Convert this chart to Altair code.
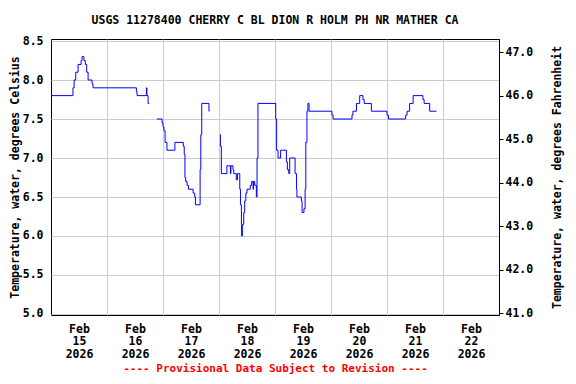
import altair as alt
import pandas as pd
from datetime import datetime, timedelta, timezone

TITLE = "USGS 11278400 CHERRY C BL DION R HOLM PH NR MATHER CA"
FOOTER = "---- Provisional Data Subject to Revision ----"
Y_LEFT_TITLE = "Temperature, water, degrees Celsius"
Y_RIGHT_TITLE = "Temperature, water, degrees Fahrenheit"

celsius_ticks = [5.0, 5.5, 6.0, 6.5, 7.0, 7.5, 8.0, 8.5]
fahrenheit_ticks = [41.0, 42.0, 43.0, 44.0, 45.0, 46.0, 47.0]
label_days = [15, 16, 17, 18, 19, 20, 21, 22]   # labels at noon
grid_days = [16, 17, 18, 19, 20, 21, 22]        # grid at midnight

# hours since 2026-02-15 00:00 UTC, step values (deg C)
seg1_hours = [0.0, 9.4, 9.9, 10.6, 11.6, 12.9, 13.3, 14.1, 14.7, 15.3, 15.9,
              17.6, 18.0, 36.6, 36.9, 40.9, 41.1, 41.6, 42.1]
seg1_temp = [7.8, 7.9, 8.0, 8.1, 8.2, 8.25, 8.3, 8.25, 8.2, 8.1, 8.0,
             7.95, 7.9, 7.85, 7.8, 7.9, 7.8, 7.7, 7.7]

seg2_hours = [45.4, 47.6, 48.0, 48.4, 48.9, 49.7, 53.1, 56.7, 57.1, 57.4, 57.7,
              58.3, 58.9, 60.9, 61.6, 61.9, 63.9, 64.2, 64.6, 67.7, 67.9]
seg2_temp = [7.5, 7.45, 7.4, 7.35, 7.2, 7.1, 7.2, 7.15, 7.05, 6.75, 6.7,
             6.65, 6.6, 6.55, 6.5, 6.4, 6.85, 7.3, 7.7, 7.6, 7.6]

seg3_hours = [72.4, 72.6, 73.0, 75.4, 76.9, 77.1, 78.0, 78.3, 79.4, 79.9, 80.9,
              81.2, 81.6, 81.7, 82.0, 82.6, 83.0, 83.5, 84.0, 85.4, 86.0, 86.6,
              86.8, 87.3, 88.0, 88.3, 88.7, 96.3, 96.7, 97.3, 98.4, 100.9, 101.3,
              101.9, 102.3, 104.6, 105.2, 105.4, 107.3, 107.6, 108.4, 108.9, 109.2,
              109.7, 110.1, 110.6, 120.4, 120.9, 129.0, 129.4, 130.9, 132.3, 133.7,
              134.2, 137.3, 144.0, 144.6, 152.0, 152.6, 153.7, 155.2, 159.4, 159.9,
              162.3, 165.2]
seg3_temp = [7.3, 7.15, 6.8, 6.9, 6.8, 6.9, 6.85, 6.8, 6.72, 6.8, 6.6,
             6.4, 6.15, 6.0, 6.15, 6.3, 6.45, 6.55, 6.6, 6.65, 6.7, 6.6,
             6.7, 6.65, 6.5, 7.0, 7.7, 7.5, 7.1, 7.0, 7.1, 6.95, 6.85,
             6.8, 7.0, 6.8, 6.6, 6.5, 6.45, 6.3, 6.35, 6.6, 7.2,
             7.6, 7.7, 7.6, 7.55, 7.5, 7.55, 7.6, 7.7, 7.8, 7.75,
             7.7, 7.6, 7.55, 7.5, 7.55, 7.6, 7.7, 7.8, 7.75, 7.7,
             7.6, 7.6]

start = datetime(2026, 2, 15, tzinfo=timezone.utc)
rows = []
for seg, (hs, ts) in enumerate([(seg1_hours, seg1_temp),
                                (seg2_hours, seg2_temp),
                                (seg3_hours, seg3_temp)]):
    for h, t in zip(hs, ts):
        rows.append({"time": (start + timedelta(hours=h)).strftime("%Y-%m-%dT%H:%M:%SZ"),
                     "temp_c": t, "segment": seg})
df = pd.DataFrame(rows)

FONT = "DejaVu Sans Mono"
FS = 11.5

x_domain = [alt.DateTime(year=2026, month=2, date=15, utc=True),
            alt.DateTime(year=2026, month=2, date=23, utc=True)]
x_scale = alt.Scale(type="utc", domain=x_domain)

label_values = [alt.DateTime(year=2026, month=2, date=d, hours=12, utc=True) for d in label_days]
grid_values = [alt.DateTime(year=2026, month=2, date=d, utc=True) for d in grid_days]

c_scale = alt.Scale(domain=[4.987, 8.526], nice=False, zero=False)
f_scale = alt.Scale(domain=[40.96, 47.30], nice=False, zero=False)

line = alt.Chart(df).mark_line(
    color="#0000FF", strokeWidth=1, interpolate="step-after"
).encode(
    x=alt.X("time:T", scale=x_scale,
            axis=alt.Axis(orient="bottom", values=label_values, grid=False, ticks=False,
                          tickSize=0, domain=False, labelPadding=8, labelLineHeight=12.5,
                          labelExpr="[utcFormat(datum.value, '%b'), utcFormat(datum.value, '%d'), utcFormat(datum.value, '%Y')]",
                          title=FOOTER, titleColor="#FF0000", titlePadding=3,
                          titleFontSize=11)),
    y=alt.Y("temp_c:Q", scale=c_scale,
            axis=alt.Axis(orient="left", values=celsius_ticks, format=".1f", grid=True,
                          ticks=False, tickSize=0, domain=False, labelPadding=8,
                          title=Y_LEFT_TITLE, titlePadding=2)),
    detail="segment:N",
)

right = alt.Chart(df).transform_calculate(
    temp_f="datum.temp_c * 1.8 + 32"
).mark_line(opacity=0).encode(
    x=alt.X("time:T", scale=x_scale,
            axis=alt.Axis(orient="top", values=grid_values, grid=True, labels=False,
                          ticks=False, domain=False, title=None)),
    y=alt.Y("temp_f:Q", scale=f_scale,
            axis=alt.Axis(orient="right", values=fahrenheit_ticks, format=".1f", grid=False,
                          ticks=True, tickSize=4, domain=True, labelPadding=2,
                          title=Y_RIGHT_TITLE, titleAngle=270, titlePadding=30)),
    detail="segment:N",
)

chart = alt.layer(line, right).resolve_scale(
    y="independent"
).resolve_axis(
    x="independent", y="independent"
).properties(
    width=448, height=276,
    autosize=alt.AutoSizeParams(type="none"),
    padding={"left": 43, "top": 31, "right": 69, "bottom": 61},
    title=alt.TitleParams(TITLE, font=FONT, fontSize=FS, fontWeight="bold",
                          color="black", anchor="middle", offset=9),
).configure_view(
    stroke="black", strokeWidth=1
).configure_axis(
    labelFont=FONT, labelFontSize=FS, labelFontWeight="bold", labelColor="black",
    titleFont=FONT, titleFontSize=FS, titleFontWeight="bold", titleColor="black",
    gridColor="#cccccc", gridWidth=1, domainColor="black", tickColor="black",
)

chart.save("out.html", embed_options={"renderer": "svg", "actions": False})
